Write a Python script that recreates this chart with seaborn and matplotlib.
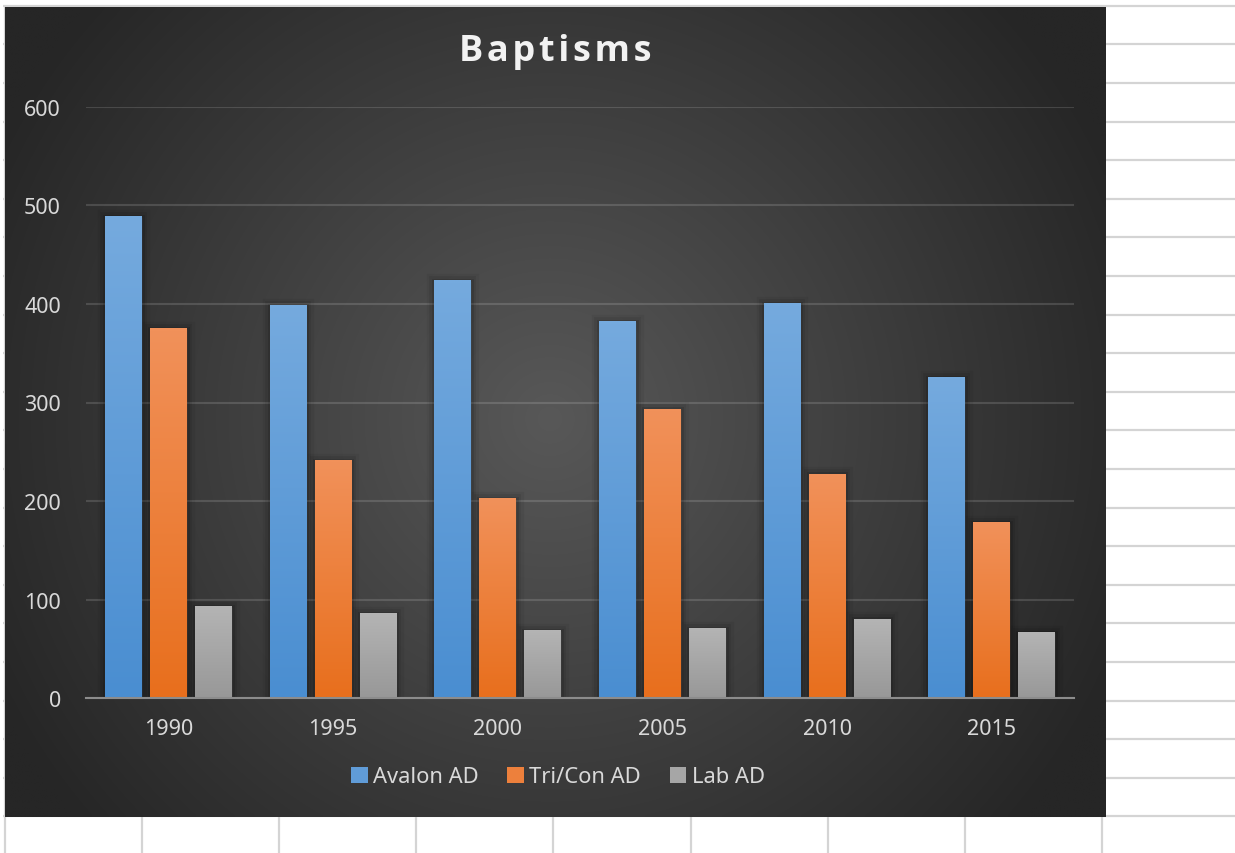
import numpy as np
import pandas as pd
import seaborn as sns
import matplotlib.pyplot as plt
from matplotlib import patheffects as pe
from matplotlib.patches import Patch

sns.set_style("white")
plt.rcParams["font.family"] = ["Noto Sans", "DejaVu Sans"]

# data
years = ["1990", "1995", "2000", "2005", "2010", "2015"]
series = ["Avalon AD", "Tri/Con AD", "Lab AD"]
avalon = [488, 398, 423, 382, 400, 325]
tricon = [375, 241, 202, 293, 227, 178]
lab = [93, 86, 68, 70, 80, 66]
y_ticks = [0, 100, 200, 300, 400, 500, 600]

# (top, bottom) of each bar gradient
BAR_COLORS = {
    "Avalon AD": ("#75aade", "#4a8ed1"),
    "Tri/Con AD": ("#f1915a", "#e86f1d"),
    "Lab AD": ("#b4b4b4", "#989898"),
}
TEXT = "#d9d9d9"

W, H = 1235, 854
CHART = (5, 1106, 818, 8)  # left, right, bottom, top in pixels


def hex_rgb(c):
    c = c.lstrip("#")
    return np.array([int(c[i:i + 2], 16) for i in (0, 2, 4)]) / 255.0


def main() -> None:
    df = pd.DataFrame({
        "year": years * 3,
        "series": np.repeat(series, len(years)),
        "value": avalon + tricon + lab,
    })

    fig = plt.figure(figsize=(W / 100, H / 100), dpi=100, facecolor="white")

    # spreadsheet cells + dark chart area
    bg = fig.add_axes([0, 0, 1, 1])
    bg.set_xlim(0, W)
    bg.set_ylim(H, 0)
    bg.axis("off")
    left, right, bottom, top = CHART
    bg.hlines(np.arange(6.7, H, 38.6), 3, W, color="#d4d4d4", lw=1.6, zorder=1)
    bg.vlines(np.arange(5, W, 137.1), top - 1, H, color="#d4d4d4", lw=1.6, zorder=1)

    xx, yy = np.meshgrid(np.linspace(left, right, 300), np.linspace(top, bottom, 220))
    d = np.clip(np.hypot(xx - 550, yy - 420) / 620, 0, 1)
    shade = (0x58 * (1 - d) + 0x26 * d) / 255.0
    bg.imshow(np.dstack([shade] * 3), extent=CHART, aspect="auto",
              interpolation="bilinear", zorder=2)
    bg.set_xlim(0, W)
    bg.set_ylim(H, 0)

    # plot area
    ax = fig.add_axes([86 / W, 1 - 699.3 / H, 988 / W, (699.3 - 107.7) / H])
    ax.set_facecolor("none")
    mids = [tuple((hex_rgb(a) + hex_rgb(b)) / 2) for a, b in BAR_COLORS.values()]
    sns.barplot(
        data=df, x="year", y="value", hue="series",
        order=years, hue_order=series, palette=mids,
        width=0.82, gap=0.18, saturation=1, linewidth=0,
        legend=False, ax=ax, zorder=2,
    )

    # gradient fill + soft shadow on every bar
    shadow = [
        pe.Stroke(linewidth=11, foreground="black", alpha=0.05),
        pe.Stroke(linewidth=7, foreground="black", alpha=0.08),
        pe.Stroke(linewidth=3.5, foreground="black", alpha=0.12),
        pe.Normal(),
    ]
    for container, name in zip(ax.containers, series):
        c_top, c_bot = (hex_rgb(c) for c in BAR_COLORS[name])
        t = np.linspace(0, 1, 64)[:, None, None]
        grad = c_top * (1 - t) + c_bot * t
        for bar in container:
            bar.set_path_effects(shadow)
            x0, w, h = bar.get_x(), bar.get_width(), bar.get_height()
            ax.imshow(grad, extent=(x0, x0 + w, 0, h), origin="upper",
                      aspect="auto", interpolation="bilinear", zorder=3)

    ax.set_xlim(-0.5, len(years) - 0.5)
    ax.set_ylim(y_ticks[0], y_ticks[-1])
    ax.set_yticks(y_ticks)
    ax.set_xlabel("")
    ax.set_ylabel("")
    ax.yaxis.grid(True, color="white", alpha=0.14, lw=1.5)
    ax.xaxis.grid(False)
    ax.set_axisbelow(True)
    for side in ["left", "right", "top"]:
        ax.spines[side].set_visible(False)
    ax.spines["bottom"].set_color("#8c8c8c")
    ax.spines["bottom"].set_linewidth(1.5)
    ax.spines["bottom"].set_zorder(5)
    ax.tick_params(axis="both", length=0, colors=TEXT, labelsize=15.5)
    ax.tick_params(axis="y", pad=18)
    ax.tick_params(axis="x", pad=14)

    handles = [Patch(facecolor=m, edgecolor="none") for m in mids]
    fig.legend(
        handles, series, loc="center", bbox_to_anchor=(558 / W, 1 - 778 / H),
        ncol=3, frameon=False, fontsize=15.8, labelcolor=TEXT,
        handlelength=0.75, handleheight=0.75, handletextpad=0.25, columnspacing=1.3,
    )

    fig.text((left + right) / 2 / W, 1 - 52 / H, "\u200a".join("Baptisms"),
             ha="center", va="center", fontsize=26, fontweight="bold",
             color="#f2f2f2", family=["Open Sans", "DejaVu Sans"])

    fig.savefig("out.png", dpi=100, facecolor="white")
    plt.close(fig)


if __name__ == "__main__":
    main()
